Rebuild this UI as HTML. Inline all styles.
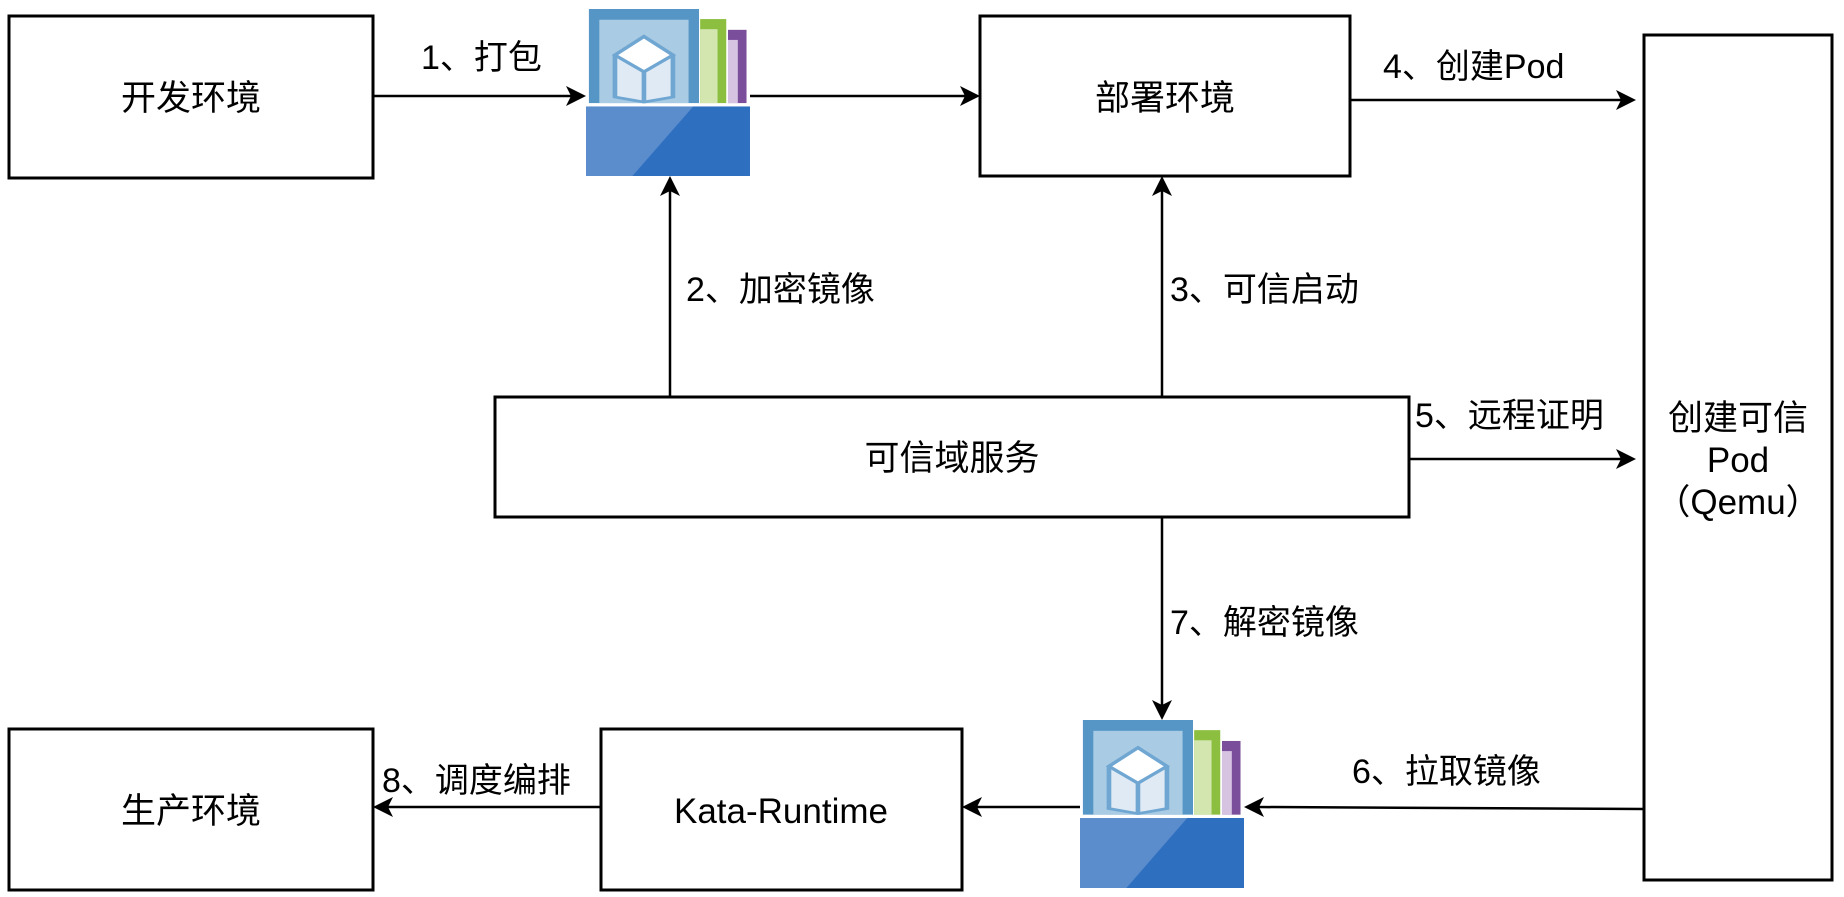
<!DOCTYPE html>
<html><head><meta charset="utf-8"><style>
body{margin:0;background:#fff;}
svg text{font-family:"Liberation Sans","Noto Sans CJK SC",sans-serif;fill:#000;}
</style></head><body>
<svg width="1844" height="892" viewBox="0 0 1844 892" xmlns="http://www.w3.org/2000/svg">
<defs>
<symbol id="icon" viewBox="995 28 283 497" preserveAspectRatio="none">
<rect x="1000" y="28" width="190" height="280" fill="#5596c6"/>
<rect x="1018" y="60" width="154" height="248" fill="#a9cbe3"/>
<rect x="1192" y="58" width="45" height="250" fill="#8cbf3f"/>
<rect x="1192" y="88" width="30" height="220" fill="#d3e6b0"/>
<rect x="1240" y="90" width="32" height="218" fill="#7b4e9c"/>
<rect x="1240" y="120" width="17" height="188" fill="#d6c3e2"/>
<path d="M1095 110 L1145 165 L1145 290 L1095 305 L1045 290 L1045 165 Z" fill="#dfeaf4" stroke="#6fa6d2" stroke-width="8"/>
<path d="M1095 110 L1145 165 L1095 215 L1045 165 Z" fill="#fff" stroke="#6fa6d2" stroke-width="8"/>
<line x1="1095" y1="215" x2="1095" y2="305" stroke="#6fa6d2" stroke-width="8"/>
<rect x="995" y="318" width="283" height="207" fill="#5b8dcd"/>
<path d="M1180 318 L1278 318 L1278 525 L1075 525 Z" fill="#2f6fc0"/>
</symbol>
</defs>
<g fill="#fff" stroke="#000" stroke-width="3">
<rect x="9" y="16" width="364" height="162"/>
<rect x="980" y="16" width="370" height="160"/>
<rect x="1644" y="35" width="188" height="845"/>
<rect x="495" y="397" width="914" height="120"/>
<rect x="9" y="729" width="364" height="161"/>
<rect x="601" y="729" width="361" height="161"/>
</g>
<use href="#icon" x="586" y="9" width="164" height="167"/>
<use href="#icon" x="1080" y="720" width="164" height="168"/>
<g stroke="#000" stroke-width="2.5" fill="none">
<line x1="373" y1="96" x2="572" y2="96"/>
<line x1="750" y1="96" x2="966" y2="96"/>
<line x1="1350" y1="100" x2="1621" y2="100"/>
<line x1="670" y1="397" x2="670" y2="190"/>
<line x1="1162" y1="397" x2="1162" y2="190"/>
<line x1="1409" y1="459" x2="1621" y2="459"/>
<line x1="1162" y1="517" x2="1162" y2="706"/>
<line x1="1644" y1="809" x2="1258" y2="807"/>
<line x1="1080" y1="807" x2="976" y2="807"/>
<line x1="601" y1="807" x2="387" y2="807"/>
</g>
<g fill="#000">
<path d="M586 96 l-20 -10 l5 10 l-5 10z"/>
<path d="M980 96 l-20 -10 l5 10 l-5 10z"/>
<path d="M1636 100 l-20 -10 l5 10 l-5 10z"/>
<path d="M670 176 l-10 20 l10 -5 l10 5z"/>
<path d="M1162 176 l-10 20 l10 -5 l10 5z"/>
<path d="M1636 459 l-20 -10 l5 10 l-5 10z"/>
<path d="M1162 720 l-10 -20 l10 5 l10 -5z"/>
<path d="M1244 807 l20 -10 l-5 10 l5 10z"/>
<path d="M962 807 l20 -10 l-5 10 l5 10z"/>
<path d="M373 807 l20 -10 l-5 10 l5 10z"/>
</g>
<g font-size="35" text-anchor="middle">
<text x="191" y="110">开发环境</text>
<text x="1165" y="110">部署环境</text>
<text x="952" y="470">可信域服务</text>
<text x="191" y="823">生产环境</text>
<text x="781" y="823">Kata-Runtime</text>
<text x="1738" y="430">创建可信</text>
<text x="1738" y="472">Pod</text>
<text x="1738" y="514">（Qemu）</text>
</g>
<g font-size="34">
<text x="421" y="69">1、打包</text>
<text x="1383" y="78">4、创建Pod</text>
<text x="686" y="301">2、加密镜像</text>
<text x="1170" y="301">3、可信启动</text>
<text x="1415" y="427">5、远程证明</text>
<text x="1170" y="634">7、解密镜像</text>
<text x="1352" y="783">6、拉取镜像</text>
<text x="382" y="792">8、调度编排</text>
</g>
</svg>
</body></html>
